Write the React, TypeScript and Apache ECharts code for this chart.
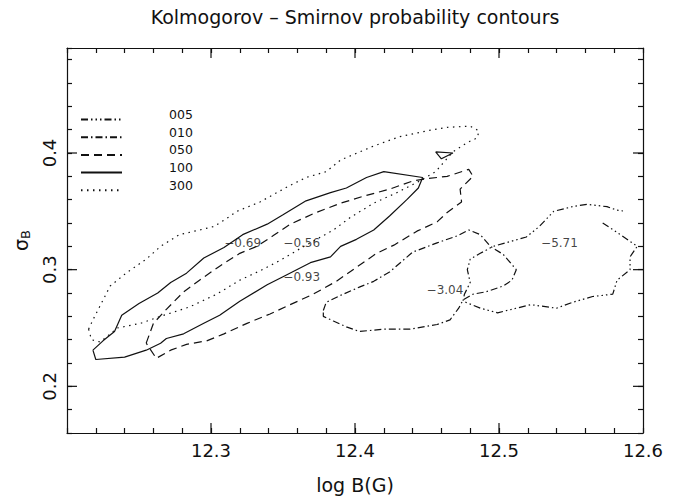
import { useEffect, useRef } from 'react';
import * as echarts from 'echarts';

// ---- axis ranges and tick labels ----
const X_MIN = 12.2;
const X_MAX = 12.6;
const Y_MIN = 0.16;
const Y_MAX = 0.49;
const xTickLabels = [12.3, 12.4, 12.5, 12.6];
const yTickLabels = [0.2, 0.3, 0.4];
const xMajorTicks = [12.3, 12.4, 12.5];
const yMajorTicks = [0.2, 0.3, 0.4];

// ---- legend levels ----
const levels = ['005', '010', '050', '100', '300'];

// ---- contour lines (log B, sigma_B) ----
const contour005: number[][] = [
  [12.572, 0.340], [12.582, 0.332], [12.596, 0.320], [12.591, 0.311], [12.591, 0.300],
  [12.582, 0.291], [12.579, 0.279], [12.565, 0.277], [12.551, 0.272], [12.540, 0.267],
  [12.522, 0.270], [12.499, 0.263], [12.487, 0.267], [12.475, 0.273], [12.476, 0.279],
  [12.480, 0.289], [12.478, 0.300], [12.480, 0.309], [12.487, 0.314], [12.496, 0.320],
  [12.519, 0.328], [12.528, 0.337], [12.538, 0.350], [12.551, 0.354], [12.561, 0.356],
  [12.575, 0.354], [12.582, 0.351], [12.588, 0.350],
];

const contour010: number[][] = [
  [12.378, 0.265], [12.380, 0.272], [12.390, 0.278], [12.403, 0.285], [12.413, 0.290],
  [12.424, 0.298], [12.440, 0.315], [12.457, 0.323], [12.471, 0.329], [12.479, 0.334],
  [12.487, 0.330], [12.494, 0.320], [12.503, 0.313], [12.512, 0.300], [12.509, 0.291],
  [12.503, 0.286], [12.491, 0.281], [12.482, 0.279], [12.475, 0.274], [12.472, 0.267],
  [12.466, 0.257], [12.457, 0.253], [12.438, 0.249], [12.420, 0.249], [12.403, 0.247],
  [12.394, 0.251], [12.385, 0.256], [12.378, 0.260],
];

const contour050: number[][] = [
  [12.255, 0.237], [12.260, 0.254], [12.269, 0.266], [12.281, 0.281], [12.292, 0.291],
  [12.306, 0.303], [12.320, 0.314], [12.332, 0.320], [12.343, 0.329], [12.355, 0.339],
  [12.373, 0.349], [12.390, 0.357], [12.406, 0.363], [12.424, 0.369], [12.440, 0.376],
  [12.450, 0.378], [12.464, 0.380], [12.479, 0.386], [12.482, 0.380], [12.477, 0.374],
  [12.473, 0.369], [12.474, 0.358], [12.464, 0.349], [12.457, 0.341], [12.443, 0.333],
  [12.427, 0.321], [12.415, 0.314], [12.401, 0.302], [12.387, 0.290], [12.371, 0.279],
  [12.355, 0.270], [12.341, 0.262], [12.325, 0.254], [12.309, 0.245], [12.297, 0.239],
  [12.283, 0.236], [12.272, 0.231], [12.262, 0.224],
];

const contour100: number[][] = [
  [12.218, 0.231], [12.225, 0.239], [12.233, 0.247], [12.238, 0.261], [12.250, 0.271],
  [12.263, 0.280], [12.272, 0.289], [12.283, 0.297], [12.295, 0.310], [12.309, 0.319],
  [12.322, 0.330], [12.339, 0.339], [12.350, 0.347], [12.366, 0.359], [12.383, 0.366],
  [12.394, 0.370], [12.408, 0.379], [12.420, 0.384], [12.447, 0.379], [12.444, 0.370],
  [12.436, 0.360], [12.424, 0.346], [12.413, 0.334], [12.401, 0.326], [12.390, 0.320],
  [12.383, 0.311], [12.369, 0.306], [12.350, 0.294], [12.339, 0.287], [12.320, 0.273],
  [12.306, 0.261], [12.295, 0.254], [12.281, 0.245], [12.269, 0.241], [12.265, 0.237],
  [12.255, 0.231], [12.240, 0.225], [12.220, 0.223],
];

const contour100Island: number[][] = [
  [12.456, 0.401], [12.468, 0.400], [12.460, 0.395],
];

const contour300: number[][] = [
  [12.215, 0.249], [12.217, 0.240], [12.223, 0.238], [12.228, 0.243], [12.235, 0.250],
  [12.251, 0.254], [12.265, 0.260], [12.285, 0.268], [12.304, 0.279], [12.320, 0.291],
  [12.334, 0.299], [12.348, 0.308], [12.366, 0.321], [12.385, 0.334], [12.397, 0.345],
  [12.413, 0.357], [12.429, 0.366], [12.445, 0.376], [12.456, 0.384], [12.468, 0.401],
  [12.478, 0.409], [12.485, 0.413], [12.486, 0.419], [12.480, 0.423], [12.464, 0.422],
  [12.450, 0.419], [12.431, 0.414], [12.413, 0.406], [12.390, 0.394], [12.380, 0.384],
  [12.366, 0.379], [12.353, 0.371], [12.334, 0.358], [12.318, 0.350], [12.311, 0.344],
  [12.302, 0.337], [12.292, 0.334], [12.278, 0.330], [12.265, 0.320], [12.255, 0.309],
  [12.241, 0.297], [12.230, 0.286], [12.218, 0.257],
];

// ---- contour value labels ----
const labelTexts = ['\u22120.69', '\u22120.56', '\u22120.93', '\u22123.04', '\u22125.71'];
const labelX = [12.322, 12.363, 12.363, 12.4625, 12.542];
const labelY = [0.323, 0.323, 0.294, 0.283, 0.323];

// ---- styles ----
const INK = '#111111';
const FONT = 'DejaVu Sans';
const LINE_W = 1.2;
const MINOR = 5;
const MAJOR = 10;

const dashFor: Record<string, any> = {
  '005': [7, 3, 1.5, 3, 1.5, 3, 1.5, 3],
  '010': [7, 3, 1.5, 3],
  '050': [8, 5],
  '100': 'solid',
  '300': [1.5, 4.5],
};

const contours = [
  { level: '005', data: contour005, closed: false },
  { level: '010', data: contour010, closed: true },
  { level: '050', data: contour050, closed: true },
  { level: '100', data: contour100, closed: true },
  { level: '100', data: contour100Island, closed: true },
  { level: '300', data: contour300, closed: true },
];

const near = (list: number[], v: number) => list.find((t) => Math.abs(t - v) < 1e-6);

const baseAxis = {
  type: 'value' as const,
  axisLine: { show: true, lineStyle: { color: INK, width: LINE_W } },
  axisTick: { show: true, inside: true, length: MINOR, lineStyle: { color: INK, width: LINE_W } },
  splitLine: { show: false },
};

function buildOption() {
  const lineSeries = contours.map((c) => ({
    type: 'line',
    name: c.level,
    data: c.closed ? [...c.data, c.data[0]] : c.data,
    symbol: 'none',
    showSymbol: false,
    silent: true,
    clip: false,
    itemStyle: { color: INK },
    lineStyle: { color: INK, width: LINE_W, type: dashFor[c.level] },
    z: 3,
  }));

  const majorTickStyle = { stroke: INK, lineWidth: LINE_W };

  return {
    animation: false,
    backgroundColor: '#ffffff',
    title: {
      text: 'Kolmogorov \u2013 Smirnov probability contours',
      left: 355,
      top: 7,
      padding: 0,
      textAlign: 'center',
      textStyle: { fontFamily: FONT, fontSize: 19, fontWeight: 'normal', color: INK },
    },
    legend: {
      orient: 'vertical',
      left: 80,
      top: 108,
      padding: 0,
      itemWidth: 41,
      itemHeight: 14,
      itemGap: -5.3,
      selectedMode: false,
      data: levels,
      itemStyle: { color: 'rgba(0,0,0,0)', borderWidth: 0, opacity: 0 },
      formatter: (name: string) => '{t|' + name + '}',
      textStyle: {
        fontFamily: FONT,
        fontSize: 12.5,
        color: INK,
        rich: {
          t: {
            fontFamily: FONT,
            fontSize: 12.5,
            lineHeight: 14,
            color: INK,
            padding: [0, 0, 10, 42],
          },
        },
      },
    },
    grid: { left: 67, right: 36, top: 48, bottom: 67, containLabel: false },
    xAxis: [
      {
        ...baseAxis,
        position: 'bottom',
        min: X_MIN,
        max: X_MAX,
        interval: 0.02,
        name: 'log B(G)',
        nameLocation: 'middle',
        nameGap: 42,
        nameTextStyle: { fontFamily: FONT, fontSize: 19, color: INK },
        axisLabel: {
          show: true,
          margin: 8,
          fontFamily: FONT,
          fontSize: 18,
          color: INK,
          formatter: (v: number) => {
            const t = near(xTickLabels, v);
            return t === undefined ? '' : t.toFixed(1);
          },
        },
      },
      {
        ...baseAxis,
        position: 'top',
        min: X_MIN,
        max: X_MAX,
        interval: 0.02,
        axisLabel: { show: false },
      },
    ],
    yAxis: [
      {
        ...baseAxis,
        position: 'left',
        min: Y_MIN,
        max: Y_MAX,
        interval: 0.02,
        name: '{s|\u03c3}{b|B}',
        nameLocation: 'middle',
        nameGap: 28,
        nameTextStyle: {
          color: INK,
          fontFamily: FONT,
          rich: {
            s: { fontFamily: FONT, fontSize: 19, lineHeight: 22, color: INK },
            b: {
              fontFamily: FONT,
              fontSize: 13,
              lineHeight: 13,
              color: INK,
              verticalAlign: 'bottom',
              padding: [10, 0, 0, 0],
            },
          },
        },
        axisLabel: {
          show: true,
          rotate: 90,
          margin: 9,
          fontFamily: FONT,
          fontSize: 18,
          color: INK,
          formatter: (v: number) => {
            const t = near(yTickLabels, v);
            return t === undefined ? '' : t.toFixed(1);
          },
        },
      },
      {
        ...baseAxis,
        position: 'right',
        min: Y_MIN,
        max: Y_MAX,
        interval: 0.02,
        axisLabel: { show: false },
      },
    ],
    series: [
      ...lineSeries,
      {
        type: 'scatter',
        name: 'contour labels',
        symbolSize: 0,
        silent: true,
        z: 5,
        data: labelTexts.map((t, i) => ({ name: t, value: [labelX[i], labelY[i]] })),
        label: {
          show: true,
          position: 'inside',
          formatter: '{b}',
          fontFamily: FONT,
          fontSize: 12,
          color: INK,
          textBorderWidth: 0,
        },
      },
      {
        type: 'custom',
        name: 'x major ticks',
        silent: true,
        z: 4,
        data: xMajorTicks.map((v) => [v, Y_MIN]),
        renderItem: (params: any, api: any) => {
          const cs = params.coordSys;
          const px = api.coord([api.value(0), api.value(1)])[0];
          const b = cs.y + cs.height;
          return {
            type: 'group',
            children: [
              { type: 'line', shape: { x1: px, y1: b, x2: px, y2: b - MAJOR }, style: majorTickStyle },
              { type: 'line', shape: { x1: px, y1: cs.y, x2: px, y2: cs.y + MAJOR }, style: majorTickStyle },
            ],
          };
        },
      },
      {
        type: 'custom',
        name: 'y major ticks',
        silent: true,
        z: 4,
        data: yMajorTicks.map((v) => [X_MIN, v]),
        renderItem: (params: any, api: any) => {
          const cs = params.coordSys;
          const py = api.coord([api.value(0), api.value(1)])[1];
          const r = cs.x + cs.width;
          return {
            type: 'group',
            children: [
              { type: 'line', shape: { x1: cs.x, y1: py, x2: cs.x + MAJOR, y2: py }, style: majorTickStyle },
              { type: 'line', shape: { x1: r, y1: py, x2: r - MAJOR, y2: py }, style: majorTickStyle },
            ],
          };
        },
      },
    ],
  };
}

export default function App() {
  const ref = useRef<HTMLDivElement>(null);
  useEffect(() => {
    if (!ref.current) return;
    const chart = echarts.init(ref.current, null, { renderer: 'svg' });
    chart.setOption(buildOption() as any);
    return () => chart.dispose();
  }, []);
  return (
    <div
      ref={ref}
      style={{ position: 'absolute', left: 0, top: 0, width: 679, height: 500, background: '#fff' }}
    />
  );
}
